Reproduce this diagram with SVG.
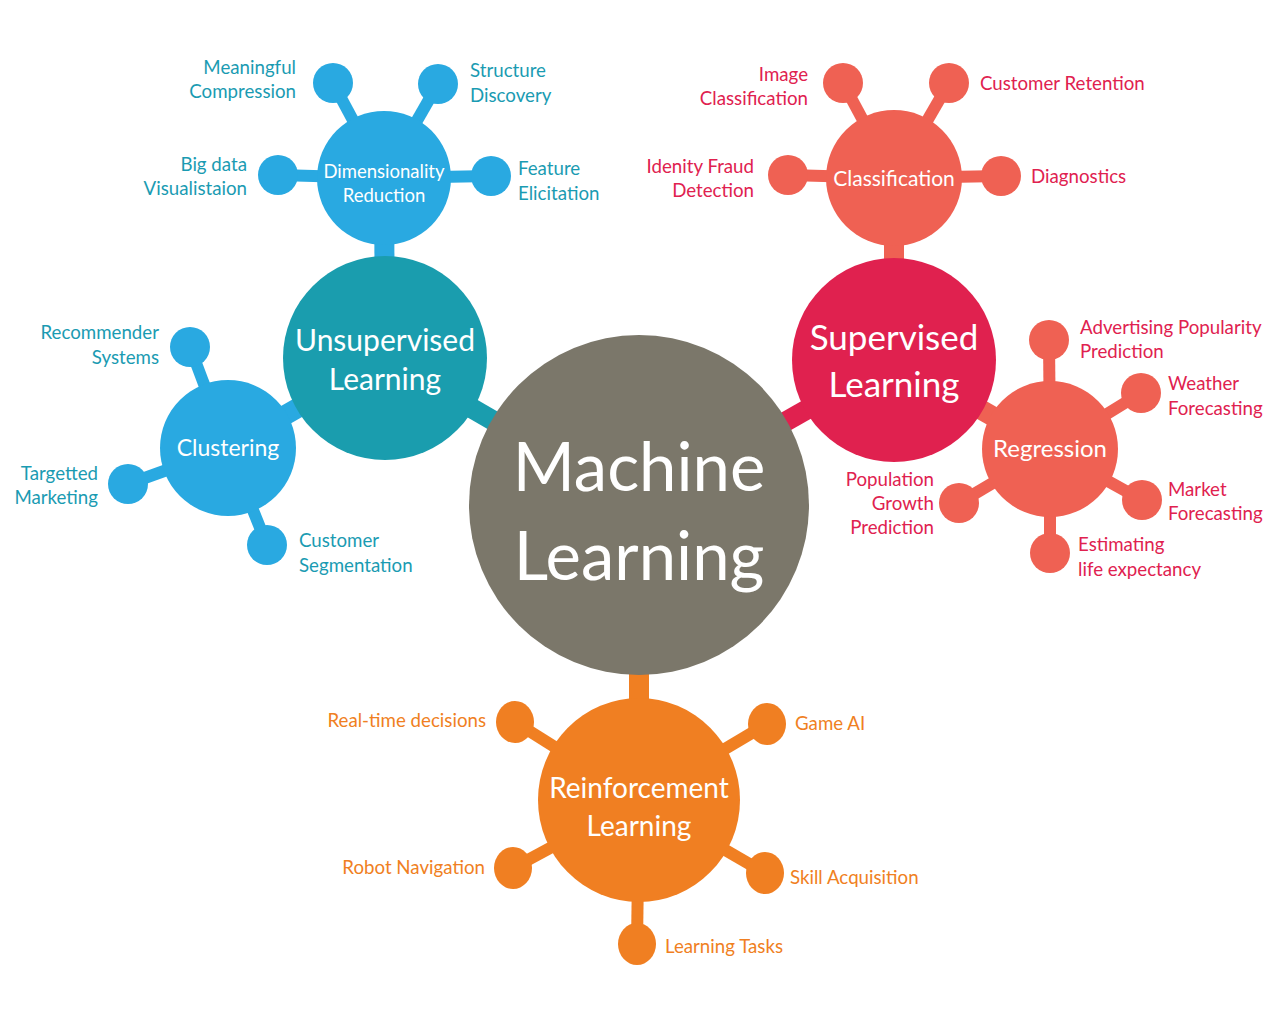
<svg xmlns="http://www.w3.org/2000/svg" width="1280" height="1018" viewBox="0 0 1280 1018">
<style>
text{font-family:Lato,"Open Sans","DejaVu Sans",sans-serif}
.w{fill:#ffffff;text-anchor:middle}
.tu{fill:#1a9bb2;font-size:18.7px}
.ts{fill:#e0214f;font-size:18.7px}
.tr{fill:#f07f22;font-size:18.7px}
.e{text-anchor:end}
.lb{stroke:#29a9e1;stroke-width:12}
.ls{stroke:#ef6153;stroke-width:12}
.lr{stroke:#f07f22;stroke-width:12}
.cb{fill:#29a9e1}
.cs{fill:#ef6153}
.cr{fill:#f07f22}
</style>
<rect width="1280" height="1018" fill="#ffffff"/>
<g id="connectors">
<line x1="385" y1="358" x2="639" y2="505" stroke="#1a9dae" stroke-width="20"/>
<line x1="894" y1="360" x2="639" y2="505" stroke="#e0214f" stroke-width="20"/>
<line x1="639" y1="800" x2="639" y2="505" stroke="#f07f22" stroke-width="20"/>
<line x1="384" y1="178" x2="385" y2="358" stroke="#29a9e1" stroke-width="20"/>
<line x1="228" y1="448" x2="385" y2="358" stroke="#29a9e1" stroke-width="20"/>
<line x1="894" y1="178" x2="894" y2="360" stroke="#ef6153" stroke-width="20"/>
<line x1="1050" y1="449" x2="894" y2="360" stroke="#ef6153" stroke-width="20"/>
<line class="lb" x1="384" y1="178" x2="333" y2="83"/>
<line class="lb" x1="384" y1="178" x2="438" y2="84"/>
<line class="lb" x1="384" y1="178" x2="278" y2="175"/>
<line class="lb" x1="384" y1="178" x2="491" y2="176"/>
<line class="lb" x1="228" y1="448" x2="190" y2="347"/>
<line class="lb" x1="228" y1="448" x2="128" y2="484"/>
<line class="lb" x1="228" y1="448" x2="267" y2="545"/>
<line class="ls" x1="894" y1="178" x2="843" y2="83"/>
<line class="ls" x1="894" y1="178" x2="949" y2="83"/>
<line class="ls" x1="894" y1="178" x2="788" y2="175"/>
<line class="ls" x1="894" y1="178" x2="1001" y2="176"/>
<line class="ls" x1="1050" y1="449" x2="1049" y2="340"/>
<line class="ls" x1="1050" y1="449" x2="1141" y2="393"/>
<line class="ls" x1="1050" y1="449" x2="959" y2="503"/>
<line class="ls" x1="1050" y1="449" x2="1142" y2="500"/>
<line class="ls" x1="1050" y1="449" x2="1050" y2="553"/>
<line class="lr" x1="639" y1="800" x2="515" y2="722"/>
<line class="lr" x1="639" y1="800" x2="767" y2="724"/>
<line class="lr" x1="639" y1="800" x2="513" y2="868"/>
<line class="lr" x1="639" y1="800" x2="765" y2="873"/>
<line class="lr" x1="639" y1="800" x2="637" y2="944"/>
</g>
<g id="machine-learning">
<circle cx="639" cy="505" r="170" fill="#7b776a"/>
<text class="w" x="639" y="491" font-size="67">Machine</text>
<text class="w" x="639" y="580" font-size="67">Learning</text>
</g>
<g id="unsupervised">
<circle cx="385" cy="358" r="102" fill="#1a9dae"/>
<text class="w" x="385" y="351" font-size="30">Unsupervised</text>
<text class="w" x="385" y="390" font-size="30">Learning</text>
</g>
<g id="supervised">
<circle cx="894" cy="360" r="102" fill="#e0214f"/>
<text class="w" x="894" y="350" font-size="35">Supervised</text>
<text class="w" x="894" y="397" font-size="35">Learning</text>
</g>
<g id="reinforcement">
<ellipse cx="639" cy="800" rx="101" ry="102" fill="#f07f22"/>
<text class="w" x="639" y="798" font-size="28">Reinforcement</text>
<text class="w" x="639" y="836" font-size="28">Learning</text>
</g>
<g id="dimensionality">
<circle class="cb" cx="384" cy="178" r="67"/>
<text class="w" x="384" y="178" font-size="18.5">Dimensionality</text>
<text class="w" x="384" y="202" font-size="18.5">Reduction</text>
</g>
<g id="clustering">
<circle class="cb" cx="228" cy="448" r="68"/>
<text class="w" x="228" y="456" font-size="23">Clustering</text>
</g>
<g id="classification">
<circle class="cs" cx="894" cy="178" r="68"/>
<text class="w" x="894" y="186" font-size="21">Classification</text>
</g>
<g id="regression">
<circle class="cs" cx="1050" cy="449" r="68"/>
<text class="w" x="1050" y="457" font-size="24">Regression</text>
</g>
<g id="meaningful-compression">
<circle class="cb" cx="333" cy="83" r="20"/>
<text class="tu e" x="296" y="74">Meaningful</text>
<text class="tu e" x="296" y="98">Compression</text>
</g>
<g id="structure-discovery">
<circle class="cb" cx="438" cy="84" r="20"/>
<text class="tu" x="470" y="77">Structure</text>
<text class="tu" x="470" y="102">Discovery</text>
</g>
<g id="big-data">
<circle class="cb" cx="278" cy="175" r="20"/>
<text class="tu e" x="247" y="171">Big data</text>
<text class="tu e" x="247" y="195">Visualistaion</text>
</g>
<g id="feature-elicitation">
<circle class="cb" cx="491" cy="176" r="20"/>
<text class="tu" x="518" y="175">Feature</text>
<text class="tu" x="518" y="200">Elicitation</text>
</g>
<g id="recommender">
<circle class="cb" cx="190" cy="347" r="20"/>
<text class="tu e" x="159" y="339">Recommender</text>
<text class="tu e" x="159" y="364">Systems</text>
</g>
<g id="targetted">
<circle class="cb" cx="128" cy="484" r="20"/>
<text class="tu e" x="98" y="480">Targetted</text>
<text class="tu e" x="98" y="504">Marketing</text>
</g>
<g id="customer-segmentation">
<circle class="cb" cx="267" cy="545" r="20"/>
<text class="tu" x="299" y="547">Customer</text>
<text class="tu" x="299" y="572">Segmentation</text>
</g>
<g id="image-classification">
<circle class="cs" cx="843" cy="83" r="20"/>
<text class="ts e" x="808" y="81">Image</text>
<text class="ts e" x="808" y="105">Classification</text>
</g>
<g id="customer-retention">
<circle class="cs" cx="949" cy="83" r="20"/>
<text class="ts" x="980" y="90">Customer Retention</text>
</g>
<g id="identity-fraud">
<circle class="cs" cx="788" cy="175" r="20"/>
<text class="ts e" x="754" y="173">Idenity Fraud</text>
<text class="ts e" x="754" y="197">Detection</text>
</g>
<g id="diagnostics">
<circle class="cs" cx="1001" cy="176" r="20"/>
<text class="ts" x="1031" y="183">Diagnostics</text>
</g>
<g id="advertising">
<circle class="cs" cx="1049" cy="340" r="20"/>
<text class="ts" x="1080" y="334">Advertising Popularity</text>
<text class="ts" x="1080" y="358">Prediction</text>
</g>
<g id="weather">
<circle class="cs" cx="1141" cy="393" r="20"/>
<text class="ts" x="1168" y="390">Weather</text>
<text class="ts" x="1168" y="415">Forecasting</text>
</g>
<g id="population">
<circle class="cs" cx="959" cy="503" r="20"/>
<text class="ts e" x="934" y="486">Population</text>
<text class="ts e" x="934" y="510">Growth</text>
<text class="ts e" x="934" y="534">Prediction</text>
</g>
<g id="market">
<circle class="cs" cx="1142" cy="500" r="20"/>
<text class="ts" x="1168" y="496">Market</text>
<text class="ts" x="1168" y="520">Forecasting</text>
</g>
<g id="estimating">
<circle class="cs" cx="1050" cy="553" r="20"/>
<text class="ts" x="1078" y="551">Estimating</text>
<text class="ts" x="1078" y="576">life expectancy</text>
</g>
<g id="real-time">
<ellipse class="cr" cx="515" cy="722" rx="19" ry="21"/>
<text class="tr e" x="486" y="727">Real-time decisions</text>
</g>
<g id="game-ai">
<ellipse class="cr" cx="767" cy="724" rx="19" ry="21"/>
<text class="tr" x="795" y="730">Game AI</text>
</g>
<g id="robot-navigation">
<ellipse class="cr" cx="513" cy="868" rx="19" ry="21"/>
<text class="tr e" x="485" y="874">Robot Navigation</text>
</g>
<g id="skill-acquisition">
<ellipse class="cr" cx="765" cy="873" rx="19" ry="21"/>
<text class="tr" x="790" y="884">Skill Acquisition</text>
</g>
<g id="learning-tasks">
<ellipse class="cr" cx="637" cy="944" rx="19" ry="21"/>
<text class="tr" x="665" y="953">Learning Tasks</text>
</g>
</svg>
